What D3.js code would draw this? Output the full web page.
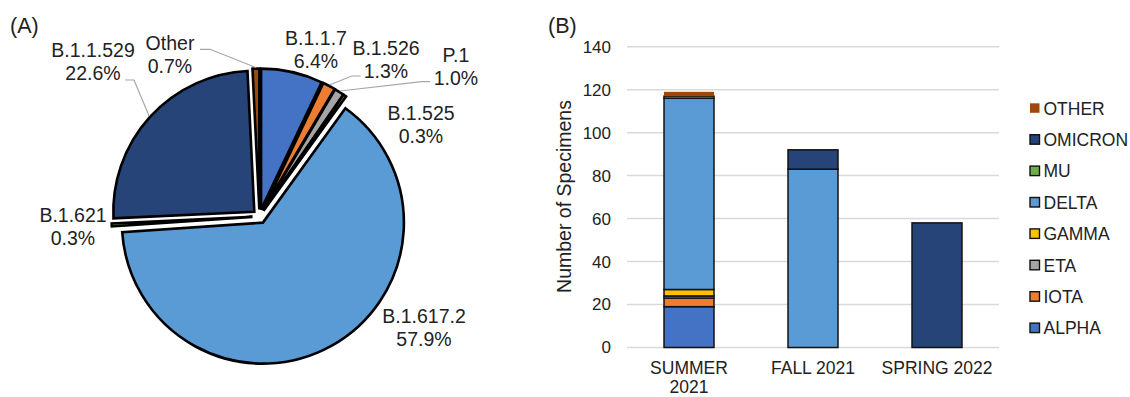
<!DOCTYPE html>
<html>
<head>
<meta charset="utf-8">
<script src="https://cdn.jsdelivr.net/npm/d3@7"></script>
<style>
  html, body { margin: 0; padding: 0; background: #fff; }
  svg { display: block; font-family: "Liberation Sans", Arial, sans-serif; }
</style>
</head>
<body>
<svg id="chart" width="1130" height="397"></svg>
<script>
// ---------- Panel A data (pie) ----------
const pieLineages = ["B.1.1.7", "B.1.526", "P.1", "B.1.525", "B.1.617.2", "B.1.621", "B.1.1.529", "Other"];
const piePercents = [6.4, 1.3, 1.0, 0.3, 57.9, 0.3, 22.6, 0.7];
const pieColors = ["#4472C4", "#ED7D31", "#A5A5A5", "#FFC000", "#5B9BD5", "#70AD47", "#264478", "#9E480E"];

// ---------- Panel B data (stacked bars) ----------
const periods = ["SUMMER 2021", "FALL 2021", "SPRING 2022"];
const periodLabelLines = [["SUMMER", "2021"], ["FALL 2021"], ["SPRING 2022"]];
const variants = ["ALPHA", "IOTA", "ETA", "GAMMA", "DELTA", "MU", "OMICRON", "OTHER"];
const variantColors = ["#4472C4", "#ED7D31", "#A5A5A5", "#FFC000", "#5B9BD5", "#70AD47", "#264478", "#9E480E"];
const alphaCounts   = [19, 0, 0];
const iotaCounts    = [4, 0, 0];
const etaCounts     = [1, 0, 0];
const gammaCounts   = [3, 0, 0];
const deltaCounts   = [89, 83, 0];
const muCounts      = [1, 0, 0];
const omicronCounts = [0, 9, 58];
const otherCounts   = [2, 0, 0];
const yTicks = [0, 20, 40, 60, 80, 100, 120, 140];

const svg = d3.select("#chart");
const textColor = "#222";

// ================= Panel A =================
svg.append("text").attr("x", 10).attr("y", 33).attr("font-size", 21.5).attr("fill", textColor).text("(A)");

const pc = { x: 259.5, y: 216.5 }, R = 141, explode = 7;
const pie = d3.pie().sort(null).value(d => d)(piePercents);
const arc = d3.arc().innerRadius(0).outerRadius(R);
const gPie = svg.append("g").attr("transform", `translate(${pc.x},${pc.y})`);

gPie.selectAll("path").data(pie).join("path")
  .attr("transform", d => {
    const m = (d.startAngle + d.endAngle) / 2;
    return `translate(${Math.sin(m) * explode},${-Math.cos(m) * explode})`;
  })
  .attr("d", arc)
  .attr("fill", (d, i) => pieColors[i])
  .attr("stroke", "#000")
  .attr("stroke-width", 2.6)
  .attr("stroke-linejoin", "miter")
  .attr("stroke-miterlimit", 3);

// label layout (first-line baseline, centre x) and optional leader elbows
const pieLabelLayout = {
  "B.1.1.7":   { x: 316, y: 45 },
  "B.1.526":   { x: 386, y: 55, leader: [[360.7, 76], [351.7, 76]] },
  "P.1":       { x: 456, y: 62, leader: [[430, 81.7], [421.7, 81.7]] },
  "B.1.525":   { x: 421, y: 120 },
  "B.1.617.2": { x: 424, y: 323 },
  "B.1.621":   { x: 73,  y: 222 },
  "B.1.1.529": { x: 93,  y: 57, leader: [[125, 80], [134, 80]] },
  "Other":     { x: 170, y: 50, leader: [[200, 49.3], [210, 49.3]] }
};
pie.forEach((d, i) => {
  const name = pieLineages[i];
  const L = pieLabelLayout[name];
  const t = svg.append("text").attr("font-size", 19.5).attr("fill", textColor).attr("text-anchor", "middle");
  t.append("tspan").attr("x", L.x).attr("y", L.y).text(name);
  t.append("tspan").attr("x", L.x).attr("y", L.y + 22.5).text(d3.format(".1f")(piePercents[i]) + "%");
  if (L.leader) {
    const m = (d.startAngle + d.endAngle) / 2;
    const rr = R + explode + 1;
    const end = [pc.x + Math.sin(m) * rr, pc.y - Math.cos(m) * rr];
    svg.append("path")
      .attr("d", d3.line()([L.leader[0], L.leader[1], end]))
      .attr("fill", "none").attr("stroke", "#A6A6A6").attr("stroke-width", 1.2);
  }
});

// ================= Panel B =================
svg.append("text").attr("x", 548).attr("y", 33).attr("font-size", 21.5).attr("fill", textColor).text("(B)");

const x = d3.scaleBand().domain(periods).range([627, 999]).paddingInner(0.597).paddingOuter(0.2985);
const y = d3.scaleLinear().domain([0, 140]).range([347.5, 46.7]);

// gridlines
svg.append("g").selectAll("line").data(yTicks).join("line")
  .attr("x1", 627).attr("x2", 999)
  .attr("y1", d => y(d)).attr("y2", d => y(d))
  .attr("stroke", "#D9D9D9").attr("stroke-width", 1.5);

// y axis labels
const yAxis = d3.axisLeft(y).tickValues(yTicks).tickSize(0).tickPadding(0);
const gy = svg.append("g").attr("transform", "translate(611,0)").call(yAxis);
gy.select(".domain").remove();
gy.selectAll("text").attr("font-size", 17).attr("fill", textColor)
  .attr("font-family", "Liberation Sans, Arial, sans-serif");

svg.append("text")
  .attr("transform", "translate(571,196.5) rotate(-90)")
  .attr("text-anchor", "middle").attr("font-size", 19.5).attr("fill", textColor)
  .text("Number of Specimens");

// stacked data
const seriesCounts = [alphaCounts, iotaCounts, etaCounts, gammaCounts, deltaCounts, muCounts, omicronCounts, otherCounts];
const rows = periods.map((p, j) => {
  const r = { period: p };
  variants.forEach((v, k) => r[v] = seriesCounts[k][j]);
  return r;
});
const stack = d3.stack().keys(variants)(rows);

const gBars = svg.append("g");
stack.forEach((layer, k) => {
  gBars.append("g").selectAll("rect")
    .data(layer.filter(d => d[1] - d[0] > 0))
    .join("rect")
    .attr("x", d => x(d.data.period))
    .attr("width", x.bandwidth())
    .attr("y", d => y(d[1]))
    .attr("height", d => y(d[0]) - y(d[1]))
    .attr("fill", variantColors[k])
    .attr("stroke", variants[k] === "OTHER" ? "none" : "#111")
    .attr("stroke-width", 1.5);
});

// x axis labels
const gx = svg.append("g");
periods.forEach((p, j) => {
  const t = gx.append("text").attr("text-anchor", "middle").attr("font-size", 17.5).attr("fill", textColor);
  periodLabelLines[j].forEach((line, li) => {
    t.append("tspan").attr("x", x(p) + x.bandwidth() / 2).attr("y", 373.5 + li * 19.5).text(line);
  });
});

// legend (reverse stacking order)
const legendOrder = variants.map((v, k) => k).reverse();
const gLeg = svg.append("g");
legendOrder.forEach((k, row) => {
  const cy = 108.3 + row * 31.4;
  gLeg.append("rect")
    .attr("x", 1030).attr("y", cy - 5).attr("width", 9.5).attr("height", 9.5)
    .attr("fill", variantColors[k])
    .attr("stroke", variants[k] === "OTHER" ? "none" : "#111")
    .attr("stroke-width", 1.4);
  gLeg.append("text").attr("x", 1043.5).attr("y", cy + 6.3)
    .attr("font-size", 17.5).attr("fill", textColor).text(variants[k]);
});
</script>
</body>
</html>
